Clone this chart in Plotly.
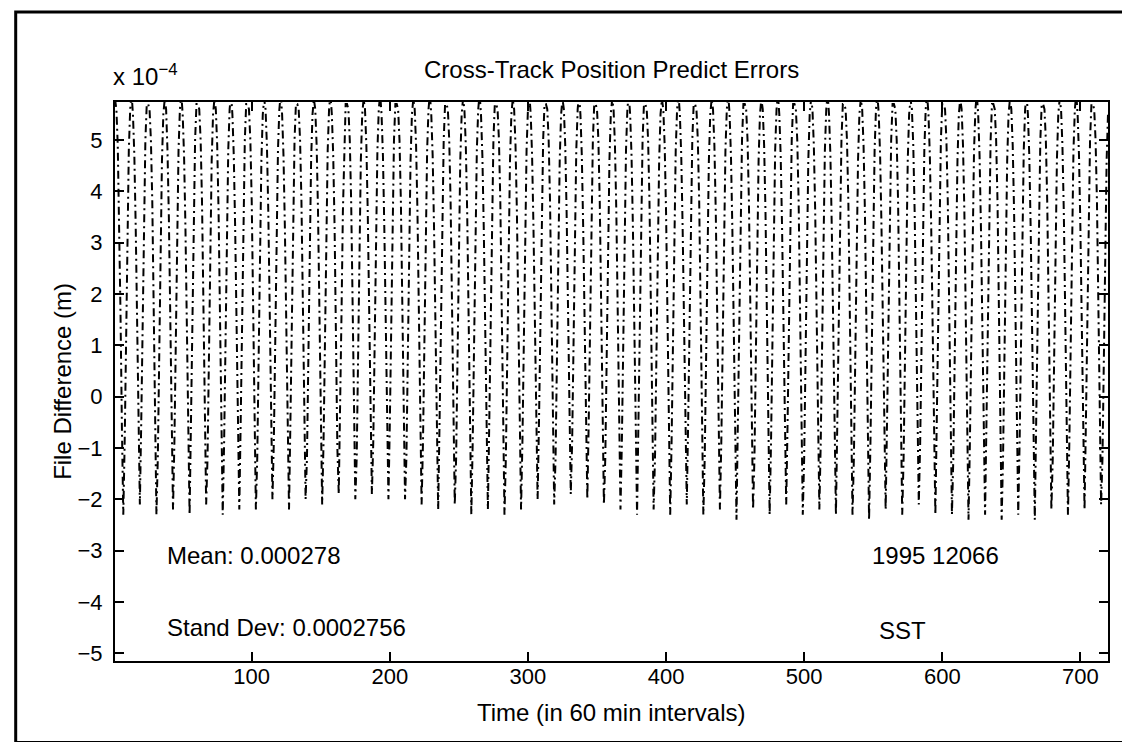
import plotly.graph_objects as go

# Cross-track file difference, units of 1e-4 m, one row per ~12 h orbit (hourly samples)
err_e4 = [
    5.8, 5.6, 4.9, 3.6, 1.6, -0.6, -2.3, -0.9, 1.3, 3.4, 4.8, 5.6,
    5.9, 5.5, 4.7, 3.3, 1.2, -1.0, -2.1, -0.5, 1.6, 3.6, 5.0, 5.7,
    5.7, 5.6, 5.0, 3.8, 1.9, -0.3, -2.3, -1.2, 1.0, 3.1, 4.6, 5.5,
    5.8, 5.6, 4.8, 3.5, 1.6, -0.7, -2.2, -0.9, 1.3, 3.4, 4.8, 5.6,
    5.9, 5.5, 4.7, 3.3, 1.2, -1.0, -2.3, -0.5, 1.6, 3.6, 5.0, 5.7,
    5.7, 5.6, 5.0, 3.8, 1.9, -0.3, -2.1, -1.2, 1.0, 3.1, 4.6, 5.5,
    5.8, 5.6, 4.9, 3.6, 1.5, -0.6, -2.3, -0.9, 1.3, 3.4, 4.8, 5.6,
    5.9, 5.5, 4.7, 3.3, 1.2, -1.0, -2.2, -0.5, 1.6, 3.6, 5.0, 5.7,
    5.7, 5.6, 5.0, 3.8, 1.9, -0.3, -2.2, -1.2, 1.0, 3.1, 4.6, 5.5,
    5.8, 5.6, 4.9, 3.6, 1.6, -0.6, -2.0, -0.9, 1.3, 3.4, 4.8, 5.6,
    5.9, 5.5, 4.7, 3.3, 1.2, -1.0, -2.2, -0.5, 1.6, 3.6, 5.0, 5.7,
    5.7, 5.6, 5.0, 3.8, 1.9, -0.3, -2.0, -1.2, 1.0, 3.1, 4.6, 5.5,
    5.8, 5.6, 4.9, 3.6, 1.6, -0.6, -2.1, -0.9, 1.3, 3.4, 4.8, 5.6,
    5.9, 5.5, 4.7, 3.3, 1.2, -1.0, -1.9, -0.5, 1.6, 3.6, 5.0, 5.7,
    5.7, 5.6, 5.0, 3.8, 1.9, -0.3, -2.0, -1.2, 1.0, 3.1, 4.6, 5.5,
    5.8, 5.6, 4.9, 3.6, 1.6, -0.6, -1.9, -0.9, 1.3, 3.4, 4.8, 5.6,
    5.9, 5.5, 4.7, 3.3, 1.2, -1.0, -2.0, -0.5, 1.6, 3.6, 5.0, 5.7,
    5.7, 5.6, 5.0, 3.8, 1.9, -0.3, -2.0, -1.2, 1.0, 3.1, 4.6, 5.5,
    5.8, 5.6, 4.9, 3.6, 1.6, -0.6, -2.1, -0.9, 1.3, 3.4, 4.8, 5.6,
    5.9, 5.5, 4.7, 3.3, 1.2, -1.0, -2.2, -0.5, 1.6, 3.6, 5.0, 5.7,
    5.7, 5.6, 5.0, 3.8, 1.9, -0.3, -2.1, -1.2, 1.0, 3.1, 4.6, 5.5,
    5.8, 5.6, 4.9, 3.6, 1.6, -0.6, -2.3, -0.9, 1.3, 3.4, 4.8, 5.6,
    5.9, 5.5, 4.7, 3.3, 1.2, -1.0, -2.2, -0.5, 1.6, 3.6, 5.0, 5.7,
    5.7, 5.6, 5.0, 3.8, 1.9, -0.3, -2.3, -1.2, 1.0, 3.1, 4.6, 5.5,
    5.8, 5.6, 4.9, 3.6, 1.6, -0.6, -2.2, -0.9, 1.3, 3.4, 4.8, 5.6,
    5.9, 5.5, 4.7, 3.3, 1.2, -1.0, -2.0, -0.5, 1.6, 3.6, 5.0, 5.7,
    5.7, 5.6, 5.0, 3.8, 1.9, -0.3, -2.1, -1.2, 1.0, 3.1, 4.6, 5.5,
    5.8, 5.6, 4.9, 3.6, 1.6, -0.6, -1.9, -0.9, 1.3, 3.4, 4.8, 5.6,
    5.9, 5.5, 4.7, 3.3, 1.2, -1.0, -2.0, -0.5, 1.6, 3.6, 5.0, 5.7,
    5.7, 5.6, 5.0, 3.8, 1.9, -0.3, -2.1, -1.2, 1.0, 3.1, 4.6, 5.5,
    5.8, 5.6, 4.9, 3.6, 1.6, -0.6, -2.2, -0.9, 1.3, 3.4, 4.8, 5.6,
    5.9, 5.5, 4.7, 3.3, 1.2, -1.0, -2.3, -0.5, 1.6, 3.6, 5.0, 5.7,
    5.7, 5.6, 5.0, 3.8, 1.9, -0.3, -2.2, -1.2, 1.0, 3.1, 4.6, 5.5,
    5.8, 5.6, 4.9, 3.6, 1.6, -0.6, -2.3, -0.9, 1.3, 3.4, 4.8, 5.6,
    5.9, 5.5, 4.7, 3.3, 1.2, -1.0, -2.1, -0.5, 1.6, 3.6, 5.0, 5.7,
    5.7, 5.6, 5.0, 3.8, 1.9, -0.3, -2.3, -1.2, 1.0, 3.1, 4.6, 5.5,
    5.8, 5.6, 4.9, 3.6, 1.6, -0.6, -2.2, -0.9, 1.3, 3.4, 4.8, 5.6,
    5.9, 5.5, 4.7, 3.3, 1.2, -1.0, -2.4, -0.5, 1.6, 3.6, 5.0, 5.7,
    5.7, 5.6, 5.0, 3.8, 1.9, -0.3, -2.2, -1.2, 1.0, 3.1, 4.6, 5.5,
    5.8, 5.6, 4.9, 3.6, 1.6, -0.6, -2.3, -0.9, 1.3, 3.4, 4.8, 5.6,
    5.9, 5.5, 4.7, 3.3, 1.2, -1.0, -2.1, -0.5, 1.6, 3.6, 5.0, 5.7,
    5.7, 5.6, 5.0, 3.8, 1.9, -0.3, -2.3, -1.2, 1.0, 3.1, 4.6, 5.5,
    5.8, 5.6, 4.9, 3.6, 1.6, -0.6, -2.2, -0.9, 1.3, 3.4, 4.8, 5.6,
    5.9, 5.5, 4.7, 3.3, 1.2, -1.0, -2.3, -0.5, 1.6, 3.6, 5.0, 5.7,
    5.7, 5.6, 5.0, 3.8, 1.9, -0.3, -2.3, -1.2, 1.0, 3.1, 4.6, 5.5,
    5.8, 5.6, 4.9, 3.6, 1.6, -0.6, -2.4, -0.9, 1.3, 3.4, 4.8, 5.6,
    5.9, 5.5, 4.7, 3.3, 1.2, -1.0, -2.2, -0.5, 1.6, 3.6, 5.0, 5.7,
    5.7, 5.6, 5.0, 3.8, 1.9, -0.3, -2.3, -1.2, 1.0, 3.1, 4.6, 5.5,
    5.8, 5.6, 4.9, 3.6, 1.6, -0.6, -2.1, -0.9, 1.3, 3.4, 4.8, 5.6,
    5.9, 5.5, 4.7, 3.3, 1.2, -1.0, -2.3, -0.5, 1.6, 3.6, 5.0, 5.7,
    5.7, 5.6, 5.0, 3.8, 1.9, -0.3, -2.3, -1.2, 1.0, 3.1, 4.6, 5.5,
    5.8, 5.6, 4.9, 3.6, 1.6, -0.6, -2.4, -0.9, 1.3, 3.4, 4.8, 5.6,
    5.9, 5.5, 4.7, 3.3, 1.2, -1.0, -2.3, -0.5, 1.6, 3.6, 5.0, 5.7,
    5.7, 5.6, 5.0, 3.8, 1.9, -0.3, -2.4, -1.2, 1.0, 3.1, 4.6, 5.5,
    5.8, 5.6, 4.9, 3.6, 1.6, -0.6, -2.3, -0.9, 1.3, 3.4, 4.8, 5.6,
    5.9, 5.5, 4.7, 3.3, 1.2, -1.0, -2.4, -0.5, 1.6, 3.6, 5.0, 5.7,
    5.7, 5.6, 5.0, 3.8, 1.9, -0.3, -2.2, -1.2, 1.0, 3.1, 4.6, 5.5,
    5.8, 5.6, 4.9, 3.6, 1.6, -0.6, -2.3, -0.9, 1.3, 3.4, 4.8, 5.6,
    5.9, 5.5, 4.7, 3.3, 1.2, -1.0, -2.2, -0.5, 1.6, 3.6, 5.0, 5.7,
    5.7, 5.6, 5.0, 3.8, 1.9, -0.3, -2.1, -1.2, 1.0, 3.1, 4.6, 5.5,
]
time_idx = list(range(1, len(err_e4) + 1))

x_ticks = [100, 200, 300, 400, 500, 600, 700]
y_ticks = [-5, -4, -3, -2, -1, 0, 1, 2, 3, 4, 5]
y_tick_text = ["\u22125", "\u22124", "\u22123", "\u22122", "\u22121", "0", "1", "2", "3", "4", "5"]

title_text = "Cross-Track Position Predict Errors"
x_title = "Time (in 60 min intervals)"
y_title = "File Difference (m)"
mean_text = "Mean: 0.000278"
std_text = "Stand Dev: 0.0002756"
date_text = "1995 12066"
site_text = "SST"

FONT = "Liberation Sans, Arial, Helvetica, sans-serif"

fig = go.Figure()
fig.add_trace(go.Scatter(
    x=time_idx, y=err_e4, mode="lines",
    line=dict(color="black", width=2, dash="8px,4px,2px,4px"),
    showlegend=False, hoverinfo="skip",
))

axis_common = dict(
    showline=True, linecolor="black", linewidth=2, mirror="ticks",
    ticks="inside", ticklen=9, tickwidth=1.5, tickcolor="black",
    showgrid=False, zeroline=False,
    tickfont=dict(family=FONT, size=22, color="black"),
)

fig.update_layout(
    width=1130, height=742,
    paper_bgcolor="white", plot_bgcolor="white",
    margin=dict(l=107, r=30, t=94, b=89, autoexpand=False),
    xaxis=dict(range=[1, 720], tickvals=x_ticks, ticklabelstandoff=-5, **axis_common),
    yaxis=dict(range=[-5.15, 5.74], tickvals=y_ticks, ticktext=y_tick_text,
               ticklabelstandoff=6, **axis_common),
    font=dict(family=FONT, color="black"),
)

ann_font = dict(family=FONT, size=24, color="black")
fig.add_annotation(text=title_text, xref="paper", yref="paper", x=0.5, y=1.059,
                   xanchor="center", yanchor="middle", showarrow=False, font=ann_font)
fig.add_annotation(text="x 10<sup>\u22124</sup>", xref="paper", yref="paper",
                   x=-0.004, y=1.017, xanchor="left", yanchor="bottom",
                   showarrow=False, font=ann_font)
fig.add_annotation(text=x_title, xref="paper", yref="paper", x=0.5, y=-0.092,
                   xanchor="center", yanchor="middle", showarrow=False, font=ann_font)
fig.add_annotation(text=y_title, xref="paper", yref="paper", x=-0.053, y=0.5,
                   xanchor="center", yanchor="middle", textangle=-90,
                   showarrow=False, font=ann_font)
fig.add_annotation(text=mean_text, xref="x", yref="y", x=37, y=-3.1,
                   xanchor="left", yanchor="middle", showarrow=False, font=ann_font)
fig.add_annotation(text=std_text, xref="x", yref="y", x=37, y=-4.5,
                   xanchor="left", yanchor="middle", showarrow=False, font=ann_font)
fig.add_annotation(text=date_text, xref="x", yref="y", x=548, y=-3.1,
                   xanchor="left", yanchor="middle", showarrow=False, font=ann_font)
fig.add_annotation(text=site_text, xref="x", yref="y", x=553, y=-4.55,
                   xanchor="left", yanchor="middle", showarrow=False, font=ann_font)

# page frame around the figure
fig.add_shape(type="rect", xref="paper", yref="paper",
              x0=-0.1, x1=1.03, y0=-0.146, y1=1.161,
              line=dict(color="black", width=3))

fig.write_html("out.html")
